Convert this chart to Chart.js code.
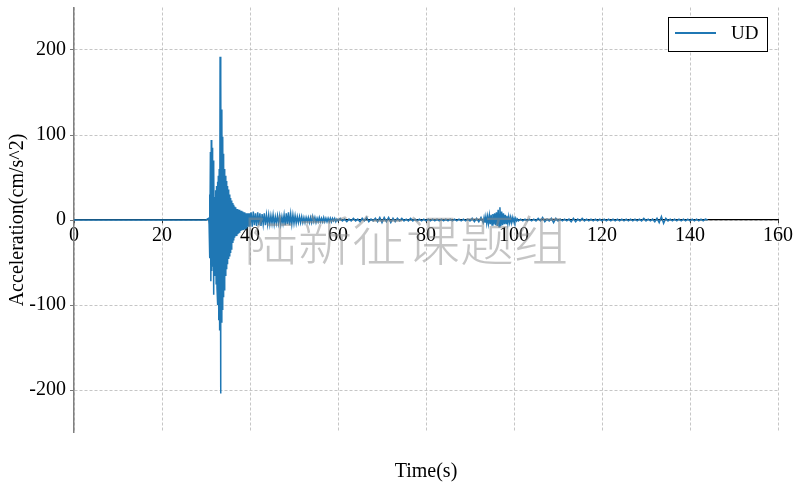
<!DOCTYPE html>
<html>
<head>
<meta charset="utf-8">
<script src="https://cdn.jsdelivr.net/npm/chart.js@4.4.1/dist/chart.umd.min.js"></script>
<style>
  html, body { margin: 0; padding: 0; background: #fff; }
  #wrap { width: 800px; height: 491px; }
</style>
</head>
<body>
<div id="wrap"><canvas id="chart-ud" width="800" height="491"></canvas></div>
<script>
// --- Record data (UD component) ---
const seriesLabel = 'UD';
const xTickValues = [0, 20, 40, 60, 80, 100, 120, 140, 160];
const yTickValues = [-200, -100, 0, 100, 200];

// quiet part before the P arrival
const preStart = 0, preStep = 10;
const preEvent = [0, 0, 0, 0];

// strong motion 30.6 s - 39.9 s, 0.1 s step
const strongStart = 30.6, strongStep = 0.1;
const strongMotion = [
    2, -5, 30, -45, 80, -72, 94, -60, 85, -55,
    70, -88, 62, -65, 27, -58, 35, -75, 40, -80,
    45, -100, 52, -118, 60, -130, 192, -204, 165, -120,
    130, -105, 98, -90, 78, -82, 60, -72, 52, -66,
    46, -58, 40, -52, 36, -46, 33, -42, 30, -38,
    26, -34, 23, -30, 20, -27, 18, -24, 16, -21,
    15, -19, 14, -18, 13, -16, 13, -15, 12, -14,
    12, -13, 11, -13, 11, -12, 10, -12, 10, -11,
    9, -10, 9, -10, 8, -9, 8, -9, 8, -8,
    7, -8, 8, -7
];

// coda 40 s - 60 s, 0.25 s step
const codaStart = 40, codaStep = 0.25;
const coda = [
    -7, 9, -8, 10, -6, 8, -7, 9,
    -6, 8, -7, 7, -5, 8, -6, 6,
    -5, 6, -5, 5, -4, 6, -5, 4,
    -4, 5, -4, 5, -5, 4, -4, 6,
    -6, 8, -5, 9, -6, 7, -5, 6,
    -4, 5, -4, 4, -3, 4, -3, 4,
    -3, 3, -3, 3, -2, 3, -3, 3,
    -3, 4, -2, 3, -3, 2, -2, 3,
    -2, 2, -2, 3, -2, 2, -2, 2,
    -2, 2, -2, 2, -1, 2, -2, 1
];

// late coda 60 s - 92.5 s, 0.5 s step
const lateStart = 60, lateStep = 0.5;
const lateCoda = [
    -1, 2, -1, 1, -2, 1, -1, 2, -1, 1,
    -2, 2, -1, 3, -2, 1, -1, 2, -2, 3,
    -3, 3, -2, 3, -3, 2, -2, 2, -1, 2,
    -1, 1, -1, 2, -1, 1, -1, 1, -1, 1,
    -1, 1, -1, 1, -1, 1, -1, 1, -1, 1,
    -1, 1, -1, 1, -1, 1, -1, 1, -1, 1,
    -1, 2, -2, 2, -2, 3
];

// second burst around 97 s, 0.2 s step
const burstStart = 93, burstStep = 0.2;
const burst = [
    -3, 3, -3, 4, -4,
    4, -4, 5, -5, 6,
    -6, 7, -5, 8, -6,
    9, -7, 12, -8, 15,
    -7, 10, -6, 8, -5,
    6, -4, 5, -4, 4,
    -3, 3, -3, 3, -2,
    2, -2, 2, -1, 1
];

// tail 101 s - 144 s, 0.5 s step
const tailStart = 101, tailStep = 0.5;
const tail = [
    -1, 1, -1, 1, -1, 1, -1, 1,
    -1, 2, -1, 3, -2, 1, -1, 2, -3, 2,
    -1, 1, -1, 1, -1, 1, -2, 2, -2, 1,
    -1, 2, -1, 1, -1, 1, -1, 1, -1, 1,
    -1, 1, -1, 1, -1, 1, -1, 1, -1, 1,
    -1, 1, -1, 1, -1, 1, -1, 1, -1, 2,
    -1, 1, -1, 1, -2, 2, -3, 4, -4, 2,
    -1, 1, -1, 1, -1, 1, -1, 1, -1, 1,
    -1, 1, -1, 1, -1, 1, -1, 1,
    0
];

function segment(t0, dt, values) {
    return values.map((v, i) => ({ x: +(t0 + i * dt).toFixed(2), y: v }));
}

const points = [].concat(
    segment(preStart, preStep, preEvent),
    segment(strongStart, strongStep, strongMotion),
    segment(codaStart, codaStep, coda),
    segment(lateStart, lateStep, lateCoda),
    segment(burstStart, burstStep, burst),
    segment(tailStart, tailStep, tail)
);

const serif = "'Liberation Serif', 'Times New Roman', serif";
const lineColor = '#1f77b4';

// axis title under the plot, legend box and watermark
const extras = {
    id: 'extras',
    afterDraw(chart) {
        const ctx = chart.ctx;
        const area = chart.chartArea;
        ctx.save();
        ctx.fillStyle = '#000';
        ctx.font = '20px ' + serif;
        ctx.textAlign = 'center';
        ctx.textBaseline = 'middle';
        ctx.fillText('Time(s)', (area.left + area.right) / 2, 472);

        // legend
        const lx = 668, ly = 17, lw = 99, lh = 34;
        ctx.fillStyle = '#fff';
        ctx.fillRect(lx, ly, lw, lh);
        ctx.strokeStyle = '#000';
        ctx.lineWidth = 1;
        ctx.strokeRect(lx + 0.5, ly + 0.5, lw, lh);
        ctx.strokeStyle = lineColor;
        ctx.lineWidth = 2;
        ctx.beginPath();
        ctx.moveTo(675, 33);
        ctx.lineTo(716, 33);
        ctx.stroke();
        ctx.fillStyle = '#000';
        ctx.font = '19px ' + serif;
        ctx.textAlign = 'left';
        ctx.fillText(chart.data.datasets[0].label, 731, 34);

        // watermark
        ctx.font = "300 54px 'Noto Sans CJK SC', sans-serif";
        ctx.textAlign = 'center';
        ctx.fillStyle = 'rgba(140,140,140,0.5)';
        ctx.fillText('陆新征课题组', 406, 240);
        ctx.restore();
    }
};

new Chart(document.getElementById('chart-ud').getContext('2d'), {
    type: 'line',
    data: {
        datasets: [{
            label: seriesLabel,
            data: points,
            borderColor: lineColor,
            borderWidth: 1.5,
            pointRadius: 0,
            tension: 0,
            fill: false
        }]
    },
    options: {
        responsive: false,
        animation: false,
        normalized: true,
        layout: { padding: { top: 7.5, bottom: 58.5, right: 22, left: 0 } },
        plugins: {
            legend: { display: false },
            tooltip: { enabled: false }
        },
        scales: {
            x: {
                type: 'linear',
                position: { y: 0 },
                min: 0,
                max: 160,
                afterBuildTicks: s => { s.ticks = xTickValues.map(v => ({ value: v })); },
                afterFit: s => { s.height = 0; },
                grid: {
                    color: '#b8b8b8',
                    lineWidth: 0.8,
                    tickColor: '#000',
                    tickLength: 3
                },
                border: { color: '#000', width: 1.2, dash: [3, 2] },
                ticks: {
                    color: '#000',
                    padding: 1,
                    maxRotation: 0,
                    font: { size: 20, family: serif }
                }
            },
            y: {
                type: 'linear',
                min: -250,
                max: 250,
                afterBuildTicks: s => { s.ticks = yTickValues.map(v => ({ value: v })); },
                afterFit: s => { s.width = 74; s.paddingTop = 0; s.paddingBottom = 0; },
                grid: {
                    color: '#b8b8b8',
                    lineWidth: 0.8,
                    tickColor: '#555',
                    tickLength: 4
                },
                border: { color: '#808080', width: 1.5, dash: [3, 2] },
                ticks: {
                    color: '#000',
                    padding: 4,
                    font: { size: 20, family: serif }
                },
                title: {
                    display: true,
                    text: 'Acceleration(cm/s^2)',
                    color: '#000',
                    padding: { top: 6, bottom: 0 },
                    font: { size: 20, family: serif }
                }
            }
        }
    },
    plugins: [extras]
});
</script>
</body>
</html>
